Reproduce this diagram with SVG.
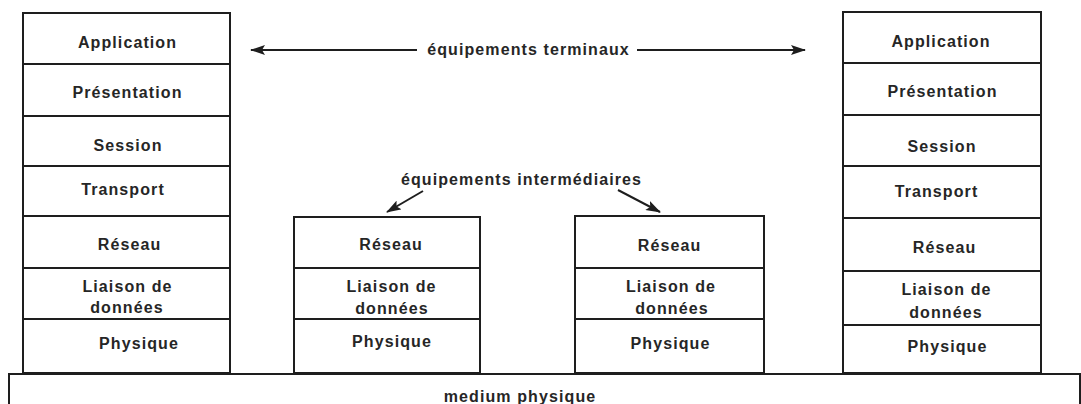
<svg xmlns="http://www.w3.org/2000/svg" width="1081" height="404" viewBox="0 0 1081 404">
<style>
.box{fill:#fff;stroke:#1e1e1e;stroke-width:2}
.lbl{font-family:"Liberation Sans",Arial,sans-serif;font-weight:bold;font-size:16px;letter-spacing:1.1px;fill:#262626;text-anchor:middle}
.conn{stroke:#1e1e1e;stroke-width:2;fill:none}
</style>
<defs>
<marker id="ah" markerWidth="15" markerHeight="10" refX="14" refY="5" orient="auto" markerUnits="userSpaceOnUse">
<path d="M0,0 L15,5 L0,10 L3,5 Z" fill="#1e1e1e"/>
</marker>
</defs>
<rect width="1081" height="404" fill="#fff"/>

<g id="medium">
<rect class="box" x="9" y="374" width="1071" height="40"/>
<text class="lbl" x="520" y="402">medium physique</text>
</g>

<g id="stack-left">
<g id="L-application"><rect class="box" x="23" y="13" width="207" height="51"/><text class="lbl" x="127.5" y="47.5">Application</text></g>
<g id="L-presentation"><rect class="box" x="23" y="64" width="207" height="52"/><text class="lbl" x="127.5" y="97.5">Présentation</text></g>
<g id="L-session"><rect class="box" x="23" y="116" width="207" height="50"/><text class="lbl" x="128" y="150.5">Session</text></g>
<g id="L-transport"><rect class="box" x="23" y="166" width="207" height="50"/><text class="lbl" x="123" y="194.5">Transport</text></g>
<g id="L-reseau"><rect class="box" x="23" y="216" width="207" height="52"/><text class="lbl" x="129.5" y="250">Réseau</text></g>
<g id="L-liaison"><rect class="box" x="23" y="268" width="207" height="51"/><text class="lbl" x="127.5" y="292">Liaison de</text><text class="lbl" x="127" y="312.5">données</text></g>
<g id="L-physique"><rect class="box" x="23" y="319" width="207" height="54"/><text class="lbl" x="139" y="348.5">Physique</text></g>
</g>

<g id="stack-mid1">
<g id="M1-reseau"><rect class="box" x="294" y="217" width="186" height="51"/><text class="lbl" x="391" y="249.5">Réseau</text></g>
<g id="M1-liaison"><rect class="box" x="294" y="268" width="186" height="51"/><text class="lbl" x="391.5" y="292">Liaison de</text><text class="lbl" x="392" y="313.5">données</text></g>
<g id="M1-physique"><rect class="box" x="294" y="319" width="186" height="54"/><text class="lbl" x="392" y="347">Physique</text></g>
</g>

<g id="stack-mid2">
<g id="M2-reseau"><rect class="box" x="575" y="216" width="189" height="52"/><text class="lbl" x="669.5" y="250.5">Réseau</text></g>
<g id="M2-liaison"><rect class="box" x="575" y="268" width="189" height="51"/><text class="lbl" x="671" y="292">Liaison de</text><text class="lbl" x="672" y="313.5">données</text></g>
<g id="M2-physique"><rect class="box" x="575" y="319" width="189" height="54"/><text class="lbl" x="670.5" y="348.5">Physique</text></g>
</g>

<g id="stack-right">
<g id="R-application"><rect class="box" x="843" y="12" width="198" height="51"/><text class="lbl" x="941" y="46.5">Application</text></g>
<g id="R-presentation"><rect class="box" x="843" y="63" width="198" height="52"/><text class="lbl" x="942.5" y="97">Présentation</text></g>
<g id="R-session"><rect class="box" x="843" y="115" width="198" height="51"/><text class="lbl" x="942" y="152">Session</text></g>
<g id="R-transport"><rect class="box" x="843" y="166" width="198" height="52"/><text class="lbl" x="936.5" y="197">Transport</text></g>
<g id="R-reseau"><rect class="box" x="843" y="218" width="198" height="53"/><text class="lbl" x="944.5" y="252.5">Réseau</text></g>
<g id="R-liaison"><rect class="box" x="843" y="271" width="198" height="54"/><text class="lbl" x="946.5" y="294.5">Liaison de</text><text class="lbl" x="946" y="317.5">données</text></g>
<g id="R-physique"><rect class="box" x="843" y="325" width="198" height="48"/><text class="lbl" x="947.5" y="352">Physique</text></g>
</g>

<g id="labels">
<text class="lbl" x="528.5" y="54.5">équipements terminaux</text>
<text class="lbl" x="521.5" y="184.5">équipements intermédiaires</text>
</g>

<g id="connectors">
<line class="conn" x1="417" y1="50" x2="251" y2="50" marker-end="url(#ah)"/>
<line class="conn" x1="637" y1="50" x2="805" y2="50" marker-end="url(#ah)"/>
<line class="conn" x1="423" y1="191" x2="387" y2="212" marker-end="url(#ah)"/>
<line class="conn" x1="618" y1="190" x2="660" y2="212" marker-end="url(#ah)"/>
</g>
</svg>
